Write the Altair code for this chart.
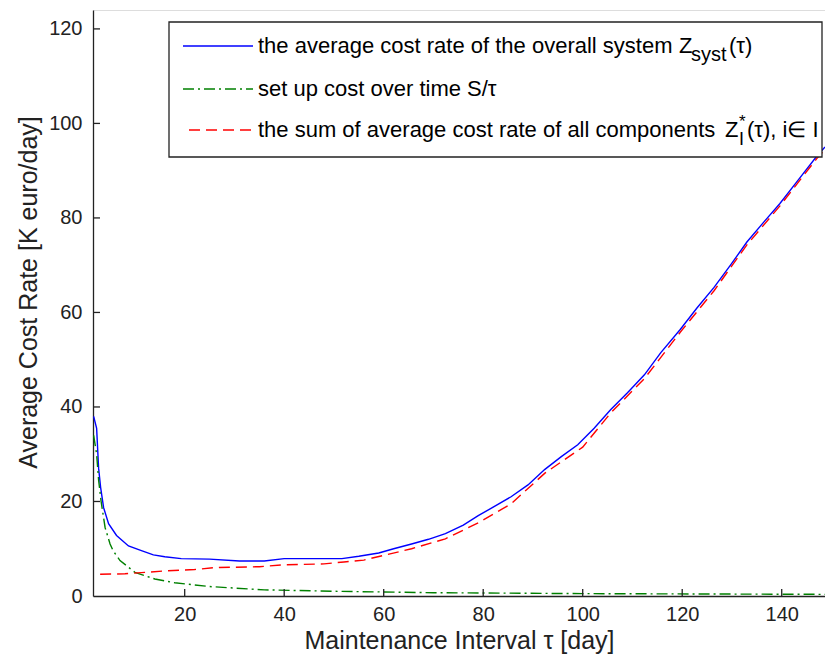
import altair as alt
import pandas as pd

# ---- data ----
tau_sys = [1.7, 2.3, 2.7, 3.1, 3.7, 4.7, 6.3, 8.7, 11.3, 13.7, 16, 19.3, 25, 31, 36, 40,
           45, 51.6, 55, 59, 62, 65.6, 69, 72.4, 76, 79, 82, 85.6, 89, 92.4, 95.7, 99,
           102.3, 105.6, 109, 112.4, 115.7, 119.6, 123, 126.4, 129.7, 133, 136.3, 139.6,
           143.3, 147, 148.7]
cost_sys = [38, 35.5, 27, 23, 18.7, 15.3, 12.8, 10.6, 9.6, 8.7, 8.3, 7.9, 7.8, 7.4, 7.4, 7.9,
            7.9, 7.9, 8.4, 9.1, 10, 11, 12, 13.2, 15, 17, 18.8, 21, 23.5, 26.8, 29.5, 32,
            35.5, 39.4, 43, 46.8, 51.5, 56.4, 61, 65.3, 70, 74.9, 79, 83, 88, 93, 95]

tau_setup = [1.7, 2.3, 2.7, 3.2, 4, 5, 5.6, 7, 10, 14, 18, 25, 36, 50, 70, 100, 148.7]
cost_setup = [34, 30, 24.5, 20, 14.5, 11, 9.6, 7.5, 5.0, 3.6, 2.8, 2.0, 1.3, 1.0, 0.7, 0.5, 0.35]

tau_comp = [3, 8, 12, 16, 22, 26, 35, 40, 48, 52, 56, 60, 65.6, 72.4, 79, 85.6, 92.4, 100,
            105.6, 112.4, 119.6, 126.4, 133, 139.6, 147, 148.7]
cost_comp = [4.6, 4.7, 5.0, 5.3, 5.6, 6.0, 6.2, 6.6, 6.8, 7.2, 7.6, 8.6, 10, 12.1, 15.5, 19.5,
             26, 31.5, 38.7, 46, 55.8, 64.6, 74.3, 82.5, 92.5, 94.5]

x_ticks = [20, 40, 60, 80, 100, 120, 140]
y_ticks = [0, 20, 40, 60, 80, 100, 120]

W, H = 732, 586
FONT = "Liberation Sans"
AX = "#222222"

x_scale = alt.Scale(domain=[1.57, 148.7], nice=False, zero=False)
y_scale = alt.Scale(domain=[0, 124], nice=False, zero=False)

x_axis = alt.Axis(title="Maintenance Interval τ [day]", values=x_ticks, ticks=False, grid=False,
                  domainColor=AX, domainWidth=1.3, labelFont=FONT, labelFontSize=20,
                  labelColor=AX, labelPadding=8, titleFont=FONT, titleFontSize=25,
                  titleFontWeight="normal", titleColor=AX, titleX=366, titleY=44,
                  titleAlign="center", titleBaseline="middle")
y_axis = alt.Axis(title="Average Cost Rate [K euro/day]", values=y_ticks, ticks=False, grid=False,
                  domainColor=AX, domainWidth=1.3, labelFont=FONT, labelFontSize=20,
                  labelColor=AX, labelPadding=11, titleFont=FONT, titleFontSize=25,
                  titleFontWeight="normal", titleColor=AX, titleX=-65, titleY=282,
                  titleAngle=270, titleAlign="center", titleBaseline="middle")

X = alt.X("tau:Q", scale=x_scale, axis=x_axis)
Y = alt.Y("cost:Q", scale=y_scale, axis=y_axis)

sys_df = pd.DataFrame({"tau": tau_sys, "cost": cost_sys})
setup_df = pd.DataFrame({"tau": tau_setup, "cost": cost_setup})
comp_df = pd.DataFrame({"tau": tau_comp, "cost": cost_comp})

blue = alt.Chart(sys_df).mark_line(color="#0000FF", strokeWidth=1.4, clip=True).encode(x=X, y=Y)
green = alt.Chart(setup_df).mark_line(color="#008000", strokeWidth=1.4, strokeDash=[11, 4, 2, 4],
                                      clip=True).encode(x=X, y=Y)
red = alt.Chart(comp_df).mark_line(color="#FF0000", strokeWidth=1.4, strokeDash=[11, 6],
                                   clip=True).encode(x=X, y=Y)

# inner tick marks (matlab style)
xt = alt.Chart(pd.DataFrame({"tau": x_ticks})).mark_rule(color=AX, strokeWidth=1.3).encode(
    x=X, y=alt.value(H), y2=alt.value(H - 7))
yt = alt.Chart(pd.DataFrame({"cost": y_ticks[1:]})).mark_rule(color=AX, strokeWidth=1.3).encode(
    y=Y, x=alt.value(0), x2=alt.value(7))

one = pd.DataFrame({"a": [0]})
box = alt.Chart(one).mark_rect(fill="white", stroke=AX, strokeWidth=1.3).encode(
    x=alt.value(76), x2=alt.value(729), y=alt.value(12), y2=alt.value(147))

sym = [
    (90, 36, "#0000FF", None),
    (90, 79, "#008000", [11, 4, 2, 4]),
    (96, 120, "#FF0000", [11, 6]),
]
layers = [blue, green, red, xt, yt, box]
for x0, yy, col, dash in sym:
    kw = dict(color=col, strokeWidth=1.4)
    if dash:
        kw["strokeDash"] = dash
    layers.append(alt.Chart(one).mark_rule(**kw).encode(
        x=alt.value(x0), x2=alt.value(160), y=alt.value(yy)))

texts = [
    ("the average cost rate of the overall system", 165, 43, 22),
    ("Z", 586, 43, 22),
    ("syst", 598, 51, 20),
    ("(τ)", 636, 43, 22),
    ("set up cost over time S/τ", 165, 86, 22),
    ("the sum of average cost rate of all components", 165, 127, 22),
    ("Z", 632, 127, 22),
    ("*", 646, 117, 17),
    ("I", 646, 135, 18),
    ("(τ), i∈ I", 654, 127, 22),
]
for s, tx, ty, fs in texts:
    layers.append(alt.Chart(one).mark_text(align="left", baseline="alphabetic", font=FONT,
                                           fontSize=fs, color="black").encode(
        x=alt.value(tx), y=alt.value(ty), text=alt.value(s)))

chart = alt.layer(*layers).properties(
    width=W, height=H,
    autosize=alt.AutoSizeParams(type="none"),
    padding={"left": 93, "top": 10, "right": 0, "bottom": 66},
).configure_view(stroke=None).configure(background="white")

chart.save("out.html", embed_options={"renderer": "svg", "actions": False})
